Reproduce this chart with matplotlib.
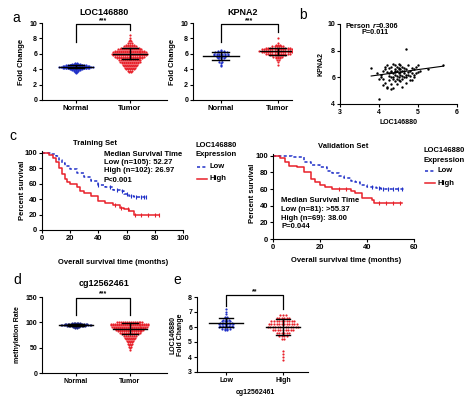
import numpy as np
import matplotlib
matplotlib.use("Agg")
import matplotlib.pyplot as plt
from matplotlib.lines import Line2D

plt.rcParams['font.family'] = ['Liberation Sans', 'DejaVu Sans']
plt.rcParams['font.weight'] = 'bold'

W, H = 475, 398
BLUE = '#2030c8'
RED = '#e8202a'

# ---------------- data ----------------
groups_a = ['Normal', 'Tumor']
loc_norm_lv = [3.5, 3.6, 3.7, 3.8, 3.9, 4.0, 4.1, 4.2, 4.3, 4.4, 4.5, 4.6, 4.7, 4.8]
loc_norm_ct = [1, 1, 2, 3, 5, 8, 12, 16, 20, 16, 12, 8, 5, 2]
loc_tum_lv = [3.6, 3.8, 4.0, 4.2, 4.4, 4.6, 4.8, 5.0, 5.2, 5.4, 5.6, 5.8, 6.0, 6.2, 6.4, 6.6, 6.8, 7.0, 7.2, 7.4, 7.6, 7.8, 8.0, 8.5]
loc_tum_ct = [2, 3, 5, 6, 7, 8, 9, 11, 12, 14, 16, 18, 19, 18, 16, 13, 10, 7, 5, 3, 2, 1, 1, 1]
loc_mean = [4.3, 6.03]
loc_sd = [0.2, 0.75]

kp_norm_lv = [4.4, 4.6, 4.8, 5.0, 5.2, 5.4, 5.6, 5.8, 6.0, 6.2, 6.4, 6.5]
kp_norm_ct = [1, 1, 1, 2, 2, 3, 4, 6, 6, 5, 3, 1]
kp_tum_lv = [4.5, 5.0, 5.2, 5.4, 5.6, 5.8, 6.0, 6.2, 6.4, 6.6, 6.8, 7.0, 7.2, 7.4, 8.1]
kp_tum_ct = [1, 1, 2, 3, 5, 8, 12, 16, 18, 16, 12, 6, 3, 1, 1]
kp_mean = [5.7, 6.33]
kp_sd = [0.55, 0.47]

b_points = [(3.80, 6.7), (3.95, 6.3), (4.00, 4.4), (4.05, 6.2), (4.10, 6.5), (4.10, 5.9),
            (4.15, 6.6), (4.15, 5.6), (4.20, 6.4), (4.20, 6.9), (4.20, 5.3), (4.25, 6.1),
            (4.25, 6.7), (4.25, 5.8), (4.30, 6.5), (4.30, 6.8), (4.30, 6.0), (4.30, 5.5),
            (4.35, 6.3), (4.35, 7.0), (4.35, 5.9), (4.35, 5.2), (4.40, 6.6), (4.40, 6.2),
            (4.40, 6.9), (4.40, 5.7), (4.40, 6.4), (4.45, 6.1), (4.45, 6.8), (4.45, 5.5),
            (4.45, 6.5), (4.50, 6.3), (4.50, 7.0), (4.50, 6.0), (4.50, 5.8), (4.50, 6.6),
            (4.55, 6.2), (4.55, 6.9), (4.55, 5.7), (4.55, 6.4), (4.60, 6.5), (4.60, 6.1),
            (4.60, 6.8), (4.60, 5.9), (4.65, 6.3), (4.65, 6.7), (4.65, 6.0), (4.70, 8.1),
            (4.70, 6.6), (4.70, 6.2), (4.70, 5.6), (4.75, 6.4), (4.75, 6.9), (4.80, 6.5),
            (4.80, 6.1), (4.80, 5.8), (4.85, 6.7), (4.85, 6.3), (4.90, 6.6), (4.90, 6.0),
            (4.95, 6.8), (5.00, 6.9), (5.00, 6.4), (5.05, 6.5), (5.25, 6.65), (5.65, 6.9),
            (4.00, 5.9), (4.10, 5.4), (4.20, 5.2), (4.30, 5.1), (4.35, 6.0), (4.45, 5.9),
            (4.60, 5.3), (4.70, 6.0), (4.85, 5.8), (4.95, 6.3), (4.15, 6.8), (4.25, 6.3),
            (4.55, 6.6), (4.40, 6.5), (4.30, 6.4), (4.50, 6.7), (4.65, 6.5), (4.75, 6.2),
            (4.05, 6.0), (4.90, 6.2)]
b_fit = (0.40, 4.58)   # slope, intercept

tr_low_t = [0, 7, 10, 12, 14, 16, 20, 25, 30, 35, 40, 45, 50, 55, 58, 62, 65, 74]
tr_low_s = [100, 98, 96, 90, 86, 83, 79, 74, 68, 63, 58, 55, 52, 50, 47, 44, 43, 43]
tr_low_c = [40, 48, 53, 57, 60, 63, 67, 70, 72, 74]
tr_high_t = [0, 2, 5, 8, 10, 12, 14, 16, 18, 20, 25, 27, 30, 35, 40, 45, 50, 55, 58, 62, 65, 83]
tr_high_s = [100, 99, 97, 93, 88, 80, 72, 66, 62, 60, 55, 50, 48, 44, 38, 35, 32, 29, 27, 25, 20, 20]
tr_high_c = [52, 56, 61, 66, 70, 75, 80, 83]

va_low_t = [0, 8, 10, 13, 16, 20, 23, 25, 28, 30, 33, 35, 37, 40, 44, 46, 56]
va_low_s = [100, 99, 98, 92, 89, 86, 82, 79, 76, 73, 70, 68, 65, 62, 61, 60, 60]
va_low_c = [42, 45, 47, 49, 51, 53, 55]
va_high_t = [0, 3, 5, 7, 10, 13, 16, 18, 20, 22, 25, 33, 35, 38, 42, 43, 55]
va_high_s = [100, 97, 93, 88, 86, 80, 72, 68, 65, 62, 60, 58, 55, 49, 47, 43, 43]
va_high_c = [28, 31, 45, 48, 51, 54]

cg_norm_lv = [89, 91, 93, 95, 97, 99]
cg_norm_ct = [2, 5, 12, 20, 15, 6]
cg_tum_lv = [46, 49, 52, 55, 58, 61, 64, 67, 70, 73, 76, 79, 82, 85, 88, 91, 94, 97, 100]
cg_tum_ct = [1, 1, 2, 2, 3, 3, 4, 5, 6, 7, 9, 11, 13, 15, 17, 19, 20, 20, 14]
cg_mean = [95, 87.5]
cg_sd = [2.5, 11.5]

groups_e = ['Low', 'High']
e_low_lv = [5.8, 5.9, 6.0, 6.1, 6.2, 6.3, 6.4, 6.5, 6.6, 6.7, 6.9, 7.0, 7.2]
e_low_ct = [2, 4, 6, 5, 6, 5, 4, 3, 2, 2, 1, 1, 1]
e_high_lv = [3.8, 4.0, 4.2, 4.4, 5.2, 5.4, 5.6, 5.8, 6.0, 6.2, 6.4, 6.6, 6.8]
e_high_ct = [1, 1, 1, 1, 2, 4, 6, 9, 13, 12, 10, 6, 3]
e_mean = [6.3, 6.0]
e_sd = [0.3, 0.55]

# ---------------- helpers ----------------
fig = plt.figure(figsize=(W / 100, H / 100), dpi=100)


def rect(x0, ytop, x1, ybot):
    return [x0 / W, 1 - ybot / H, (x1 - x0) / W, (ybot - ytop) / H]


def ftext(x, y, s, **kw):
    kw.setdefault('va', 'center')
    kw.setdefault('fontweight', 'bold')
    fig.text(x / W, 1 - y / H, s, **kw)


def style(ax, fs=5):
    for sp in ['top', 'right']:
        ax.spines[sp].set_visible(False)
    for sp in ['left', 'bottom']:
        ax.spines[sp].set_linewidth(0.8)
    ax.tick_params(labelsize=fs, length=2, width=0.8, pad=1.5)
    for lab in ax.get_xticklabels() + ax.get_yticklabels():
        lab.set_fontweight('bold')


def dots(ax, pos, levels, counts, color, spacing, s=2.5, marker='o'):
    xs, ys = [], []
    for lv, c in zip(levels, counts):
        offs = (np.arange(c) - (c - 1) / 2) * spacing
        xs.extend(pos + offs)
        ys.extend([lv] * c)
    ax.scatter(xs, ys, s=s, color=color, marker=marker, linewidths=0, zorder=2)


def mean_sd(ax, pos, m, sd, half=0.32, cap=0.15):
    ax.plot([pos - half, pos + half], [m, m], color='k', lw=1.0, zorder=3)
    ax.plot([pos, pos], [m - sd, m + sd], color='k', lw=1.0, zorder=3)
    for yv in (m - sd, m + sd):
        ax.plot([pos - cap, pos + cap], [yv, yv], color='k', lw=1.0, zorder=3)


def bracket(ax, y_top, yl, yr, stars, ystar):
    ax.plot([0, 0, 1, 1], [yl, y_top, y_top, yr], color='k', lw=0.9, clip_on=False)
    ax.text(0.5, ystar, stars, ha='center', va='center', fontsize=5, fontweight='bold')


# ---------------- panel a1 ----------------
ax = fig.add_axes(rect(42, 23, 167, 100))
dots(ax, 0, loc_norm_lv, loc_norm_ct, BLUE, 0.033)
dots(ax, 1, loc_tum_lv, loc_tum_ct, RED, 0.036)
mean_sd(ax, 0, loc_mean[0], loc_sd[0])
mean_sd(ax, 1, loc_mean[1], loc_sd[1])
bracket(ax, 9.9, 7.5, 9.1, '***', 10.3)
ax.set_xlim(-0.63, 1.69)
ax.set_ylim(0, 10)
ax.set_yticks([0, 2, 4, 6, 8, 10])
ax.set_xticks([0, 1])
ax.set_xticklabels(groups_a)
ax.set_ylabel('Fold Change', fontsize=5.5, fontweight='bold', labelpad=3)
ax.set_title('LOC146880', fontsize=6.5, fontweight='bold', pad=6)
style(ax)
ax.tick_params(axis='x', labelsize=5.5)

# ---------------- panel a2 ----------------
ax = fig.add_axes(rect(193, 23, 292, 100))
dots(ax, 0, kp_norm_lv, kp_norm_ct, BLUE, 0.05)
dots(ax, 1, kp_tum_lv, kp_tum_ct, RED, 0.038)
mean_sd(ax, 0, kp_mean[0], kp_sd[0])
mean_sd(ax, 1, kp_mean[1], kp_sd[1])
bracket(ax, 9.9, 7.5, 8.8, '***', 10.3)
ax.set_xlim(-0.49, 1.25)
ax.set_ylim(0, 10)
ax.set_yticks([0, 2, 4, 6, 8, 10])
ax.set_xticks([0, 1])
ax.set_xticklabels(groups_a)
ax.set_ylabel('Fold Change', fontsize=5.5, fontweight='bold', labelpad=3)
ax.set_title('KPNA2', fontsize=6.5, fontweight='bold', pad=6)
style(ax)
ax.tick_params(axis='x', labelsize=5.5)

# ---------------- panel b ----------------
ax = fig.add_axes(rect(340, 24, 457, 104))
bx = [p[0] for p in b_points]
by = [p[1] for p in b_points]
ax.scatter(bx, by, s=3, color='k', linewidths=0, zorder=2)
xl = np.array([min(bx), max(bx)])
ax.plot(xl, b_fit[0] * xl + b_fit[1], color='k', lw=0.8)
ax.set_xlim(3, 6)
ax.set_ylim(4, 10)
ax.set_xticks([3, 4, 5, 6])
ax.set_yticks([4, 6, 8, 10])
ax.set_ylabel('KPNA2', fontsize=5, fontweight='bold', labelpad=2)
ax.set_xlabel('LOC146880', fontsize=5, fontweight='bold', labelpad=2)
style(ax)
ftext(346, 26, 'Person', fontsize=5.3)
ftext(372.5, 26, 'r', fontsize=5.3, fontstyle='italic')
ftext(376, 26, '=0.306', fontsize=5.3)
ftext(362, 33, 'P=0.011', fontsize=5.3)


# ---------------- survival panels ----------------
def surv(ax, t, s, ct, color, ls):
    ax.step(t, s, where='post', color=color, lw=1.1, ls=ls)
    cs = [s[np.searchsorted(t, c, side='right') - 1] for c in ct]
    ax.scatter(ct, cs, marker='|', s=6, color=color, linewidths=0.8, zorder=3)


FS = 5.5


def legend(x, ytitle, ylow, yhigh):
    ftext(x, ytitle, 'LOC146880', fontsize=FS)
    ftext(x, ytitle + 9, 'Expression', fontsize=FS)
    fig.add_artist(Line2D([(x + 2) / W, (x + 12) / W], [1 - ylow / H] * 2, color=BLUE,
                          lw=1.1, ls=(0, (2, 1.5)), transform=fig.transFigure))
    fig.add_artist(Line2D([(x + 2) / W, (x + 12) / W], [1 - yhigh / H] * 2, color=RED,
                          lw=1.1, transform=fig.transFigure))
    ftext(x + 15, ylow, 'Low', fontsize=FS)
    ftext(x + 15, yhigh, 'High', fontsize=FS)


ax = fig.add_axes(rect(42, 151, 183, 230))
surv(ax, tr_low_t, tr_low_s, tr_low_c, BLUE, (0, (2, 1.5)))
surv(ax, tr_high_t, tr_high_s, tr_high_c, RED, '-')
ax.set_xlim(0, 100)
ax.set_ylim(0, 102)
ax.set_xticks([0, 20, 40, 60, 80, 100])
ax.set_yticks([0, 20, 40, 60, 80, 100])
style(ax, fs=5.5)
ftext(22, 190, 'Percent survival', fontsize=5.5, rotation=90, ha='center')
ftext(113, 263, 'Overall survival time (months)', fontsize=5.5, ha='center')
ftext(95, 143, 'Training Set', fontsize=FS, ha='center')
for yy, s in zip([154, 162.5, 171, 180.5],
                 ['Median Survival Time', 'Low (n=105): 52.27', 'High (n=102): 26.97', 'P<0.001']):
    ftext(104, yy, s, fontsize=FS)
legend(195, 146, 167, 179)

ax = fig.add_axes(rect(273, 154, 414, 239))
surv(ax, va_low_t, va_low_s, va_low_c, BLUE, (0, (2, 1.5)))
surv(ax, va_high_t, va_high_s, va_high_c, RED, '-')
ax.set_xlim(0, 60)
ax.set_ylim(0, 102)
ax.set_xticks([0, 20, 40, 60])
ax.set_yticks([0, 20, 40, 60, 80, 100])
style(ax, fs=5.5)
ftext(252, 193, 'Percent survival', fontsize=5.5, rotation=90, ha='center')
ftext(346, 260, 'Overall survival time (months)', fontsize=5.5, ha='center')
ftext(343, 147, 'Validation Set', fontsize=FS, ha='center')
for yy, s in zip([201, 209.5, 218.5, 227],
                 ['Median Survival Time', 'Low (n=81): >55.37', 'High (n=69): 38.00', 'P=0.044']):
    ftext(281, yy, s, fontsize=FS)
legend(423, 151, 171, 183)

# ---------------- panel d ----------------
ax = fig.add_axes(rect(42, 297, 167, 373))
dots(ax, 0, cg_norm_lv, cg_norm_ct, '#1a237e', 0.03)
dots(ax, 1, cg_tum_lv, cg_tum_ct, RED, 0.036)
mean_sd(ax, 0, cg_mean[0], cg_sd[0])
mean_sd(ax, 1, cg_mean[1], cg_sd[1])
bracket(ax, 149, 115, 115, '***', 156)
ax.set_xlim(-0.63, 1.69)
ax.set_ylim(0, 150)
ax.set_yticks([0, 50, 100, 150])
ax.set_xticks([0, 1])
ax.set_xticklabels(groups_a)
ax.set_ylabel('methylation Rate', fontsize=5, fontweight='bold', labelpad=3)
ax.set_title('cg12562461', fontsize=6.5, fontweight='bold', pad=8)
style(ax)

# ---------------- panel e ----------------
ax = fig.add_axes(rect(197, 297, 308, 372))
dots(ax, 0, e_low_lv, e_low_ct, BLUE, 0.05)
dots(ax, 1, e_high_lv, e_high_ct, RED, 0.045)
mean_sd(ax, 0, e_mean[0], e_sd[0], half=0.3, cap=0.13)
mean_sd(ax, 1, e_mean[1], e_sd[1], half=0.3, cap=0.13)
bracket(ax, 8.12, 7.4, 7.2, '**', 8.35)
ax.set_xlim(-0.51, 1.44)
ax.set_ylim(3, 8)
ax.set_yticks([3, 4, 5, 6, 7, 8])
ax.set_xticks([0, 1])
ax.set_xticklabels(groups_e)
ax.set_ylabel('LOC146880\nFold Change', fontsize=5, fontweight='bold', labelpad=3, linespacing=1.0)
style(ax)
ftext(255, 392, 'cg12562461', fontsize=5, ha='center')

# panel letters
for x, y, s in [(16, 18, 'a'), (303, 15, 'b'), (13, 136, 'c'), (17, 280, 'd'), (177, 280, 'e')]:
    ftext(x, y, s, fontsize=10, fontweight='normal', ha='center')

fig.savefig('out.png', dpi=100)
